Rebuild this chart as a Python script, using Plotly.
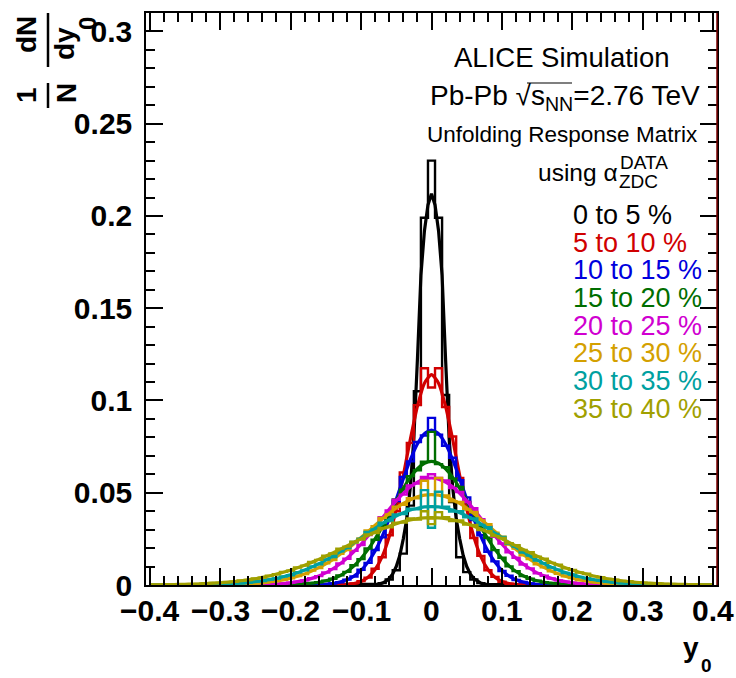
import numpy as np
import plotly.graph_objects as go

# ---------------------------------------------------------------------------
# Binning of the y0 histograms: 81 bins of width 0.01, centred on -0.40 .. 0.40
# ---------------------------------------------------------------------------
Y0_CENTERS = np.round(np.linspace(-0.40, 0.40, 81), 3)

CLASSES = ["0 to 5 %", "5 to 10 %", "10 to 15 %", "15 to 20 %",
           "20 to 25 %", "25 to 30 %", "30 to 35 %", "35 to 40 %"]

# ---------------------------------------------------------------------------
# Unfolded distributions 1/N dN/dy0 (bin contents), one list per centrality
# ---------------------------------------------------------------------------
HIST_0_5 = [
    0, 0, 0, 0, 0, 0, 0, 0, 0, 0, 0, 0, 0, 0, 0, 0, 0, 0, 0, 0,
    0, 0, 0, 0, 0, 0, 0, 0, 0, 0, 0, 0, 0,
    0.001, 0.003, 0.008, 0.017, 0.043, 0.105, 0.199, 0.230, 0.199, 0.103,
    0.045, 0.015, 0.007, 0.003, 0.001,
    0, 0, 0, 0, 0, 0, 0, 0, 0, 0, 0, 0, 0, 0, 0, 0, 0, 0, 0, 0,
    0, 0, 0, 0, 0, 0, 0, 0, 0, 0, 0, 0, 0,
]
HIST_5_10 = [
    0, 0, 0, 0, 0, 0, 0, 0, 0, 0, 0, 0, 0, 0, 0, 0, 0, 0, 0, 0,
    0, 0, 0, 0, 0, 0, 0,
    0.0001, 0.0003, 0.0009, 0.0021, 0.0040, 0.0088, 0.0150, 0.0270, 0.0400,
    0.0610, 0.0770, 0.0975, 0.1175, 0.1070, 0.1175, 0.0965, 0.0805, 0.0580,
    0.0420, 0.0255, 0.0158, 0.0080, 0.0044, 0.0018, 0.0007, 0.0003, 0.0001,
    0, 0, 0, 0, 0, 0, 0, 0, 0, 0, 0, 0, 0, 0, 0, 0, 0, 0, 0, 0,
    0, 0, 0, 0, 0, 0, 0,
]
HIST_10_15 = [
    0, 0, 0, 0, 0, 0, 0, 0, 0, 0, 0, 0, 0, 0, 0, 0, 0, 0, 0, 0,
    0, 0, 0,
    0.0001, 0.0002, 0.0004, 0.0009, 0.0015, 0.0029, 0.0046, 0.0083, 0.0120,
    0.0190, 0.0258, 0.0368, 0.0455, 0.0585, 0.0670, 0.0775, 0.0810, 0.0906,
    0.0815, 0.0755, 0.0690, 0.0568, 0.0475, 0.0352, 0.0270, 0.0180, 0.0128,
    0.0076, 0.0050, 0.0027, 0.0016, 0.0008, 0.0004, 0.0002, 0.0001,
    0, 0, 0, 0, 0, 0, 0, 0, 0, 0, 0, 0, 0, 0, 0, 0, 0, 0, 0, 0,
    0, 0, 0,
]
HIST_15_20 = [
    0, 0, 0, 0, 0, 0, 0, 0, 0, 0, 0, 0, 0, 0, 0, 0, 0, 0,
    0.0001, 0.0002, 0.0003, 0.0004, 0.0007, 0.0010, 0.0015, 0.0023, 0.0034,
    0.0052, 0.0071, 0.0107, 0.0140, 0.0198, 0.0245, 0.0322, 0.0378, 0.0463,
    0.0516, 0.0590, 0.0622, 0.0668, 0.0830, 0.0655, 0.0638, 0.0576, 0.0532,
    0.0450, 0.0392, 0.0309, 0.0256, 0.0189, 0.0148, 0.0101, 0.0075, 0.0048,
    0.0034, 0.0023, 0.0015, 0.0010, 0.0007, 0.0004, 0.0003, 0.0002, 0.0001,
    0, 0, 0, 0, 0, 0, 0, 0, 0, 0, 0, 0, 0, 0, 0, 0, 0, 0,
]
HIST_20_25 = [
    0, 0, 0, 0, 0, 0, 0, 0, 0, 0, 0, 0, 0, 0, 0,
    0.0001, 0.0002, 0.0003, 0.0005, 0.0008, 0.0012, 0.0018, 0.0025, 0.0037,
    0.0048, 0.0068, 0.0086, 0.0117, 0.0142, 0.0185, 0.0217, 0.0271, 0.0308,
    0.0368, 0.0404, 0.0462, 0.0490, 0.0540, 0.0550, 0.0585, 0.0600, 0.0580,
    0.0566, 0.0525, 0.0504, 0.0450, 0.0416, 0.0356, 0.0318, 0.0261, 0.0225,
    0.0177, 0.0148, 0.0111, 0.0090, 0.0064, 0.0050, 0.0035, 0.0025, 0.0018,
    0.0012, 0.0008, 0.0005, 0.0003, 0.0002, 0.0001,
    0, 0, 0, 0, 0, 0, 0, 0, 0, 0, 0, 0, 0, 0, 0,
]
HIST_25_30 = [
    0, 0, 0, 0, 0, 0, 0, 0, 0, 0,
    0.0001, 0.0002, 0.0003, 0.0004, 0.0006, 0.0009, 0.0012, 0.0017, 0.0021,
    0.0029, 0.0036, 0.0049, 0.0059, 0.0078, 0.0092, 0.0118, 0.0135, 0.0169,
    0.0189, 0.0229, 0.0252, 0.0296, 0.0318, 0.0364, 0.0382, 0.0425, 0.0434,
    0.0470, 0.0470, 0.0565, 0.0360, 0.0580, 0.0486, 0.0454, 0.0450, 0.0409,
    0.0396, 0.0350, 0.0330, 0.0284, 0.0262, 0.0219, 0.0197, 0.0161, 0.0141,
    0.0112, 0.0096, 0.0074, 0.0061, 0.0047, 0.0038, 0.0027, 0.0023, 0.0015,
    0.0012, 0.0009, 0.0006, 0.0004, 0.0003, 0.0002, 0.0001,
    0, 0, 0, 0, 0, 0, 0, 0, 0, 0,
]
HIST_30_35 = [
    0, 0, 0, 0, 0,
    0.0001, 0.0001, 0.0002, 0.0002, 0.0003, 0.0004, 0.0006, 0.0008, 0.0011,
    0.0013, 0.0019, 0.0022, 0.0030, 0.0035, 0.0047, 0.0053, 0.0069, 0.0079,
    0.0100, 0.0112, 0.0138, 0.0152, 0.0183, 0.0200, 0.0233, 0.0250, 0.0287,
    0.0301, 0.0338, 0.0347, 0.0382, 0.0385, 0.0414, 0.0410, 0.0514, 0.0310,
    0.0505, 0.0425, 0.0398, 0.0400, 0.0367, 0.0361, 0.0325, 0.0313, 0.0276,
    0.0260, 0.0225, 0.0208, 0.0176, 0.0160, 0.0132, 0.0118, 0.0095, 0.0083,
    0.0065, 0.0057, 0.0044, 0.0037, 0.0028, 0.0024, 0.0017, 0.0015, 0.0010,
    0.0008, 0.0006, 0.0004, 0.0003, 0.0002, 0.0002, 0.0001, 0.0001,
    0, 0, 0, 0, 0,
]
HIST_35_40 = [
    0.0001, 0.0001, 0.0002, 0.0002, 0.0003, 0.0004, 0.0005, 0.0006, 0.0008,
    0.0011, 0.0012, 0.0016, 0.0018, 0.0024, 0.0027, 0.0035, 0.0040, 0.0051,
    0.0058, 0.0071, 0.0078, 0.0095, 0.0105, 0.0125, 0.0136, 0.0159, 0.0171,
    0.0197, 0.0208, 0.0235, 0.0246, 0.0274, 0.0282, 0.0309, 0.0313, 0.0338,
    0.0338, 0.0360, 0.0355, 0.0400, 0.0330, 0.0395, 0.0368, 0.0347, 0.0350,
    0.0327, 0.0325, 0.0298, 0.0292, 0.0265, 0.0255, 0.0227, 0.0216, 0.0190,
    0.0178, 0.0153, 0.0142, 0.0120, 0.0110, 0.0091, 0.0082, 0.0068, 0.0061,
    0.0048, 0.0042, 0.0033, 0.0029, 0.0022, 0.0020, 0.0014, 0.0013, 0.0009,
    0.0008, 0.0006, 0.0005, 0.0004, 0.0003, 0.0002, 0.0002, 0.0001, 0.0001,
]

# ---------------------------------------------------------------------------
# Fitted curves. The narrow 0-5 % curve is sampled on its own finer grid,
# the others on the bin centres above.
# ---------------------------------------------------------------------------
FIT_0_5_X = [
    -0.40, -0.080, -0.075, -0.070, -0.065, -0.060, -0.055, -0.050, -0.045,
    -0.040, -0.035, -0.030, -0.025, -0.020, -0.015, -0.010, -0.005, 0.000,
    0.005, 0.010, 0.015, 0.020, 0.025, 0.030, 0.035, 0.040, 0.045, 0.050,
    0.055, 0.060, 0.065, 0.070, 0.075, 0.080, 0.40,
]
FIT_0_5 = [
    0, 0.0002, 0.0005, 0.001, 0.002, 0.0035, 0.006, 0.010, 0.016,
    0.025, 0.036, 0.053, 0.080, 0.122, 0.168, 0.192, 0.206, 0.212,
    0.206, 0.192, 0.168, 0.122, 0.080, 0.053, 0.036, 0.025, 0.016, 0.010,
    0.006, 0.0035, 0.002, 0.001, 0.0005, 0.0002, 0,
]
FIT_5_10 = [
    0, 0, 0, 0, 0, 0, 0, 0, 0, 0, 0, 0, 0, 0, 0, 0, 0, 0, 0, 0,
    0, 0, 0, 0, 0, 0, 0,
    0.0001, 0.0003, 0.0008, 0.0019, 0.0042, 0.0084, 0.0154, 0.0262, 0.0411,
    0.0593, 0.0790, 0.0968, 0.1094, 0.1140, 0.1094, 0.0968, 0.0790, 0.0593,
    0.0411, 0.0262, 0.0154, 0.0084, 0.0042, 0.0019, 0.0008, 0.0003, 0.0001,
    0, 0, 0, 0, 0, 0, 0, 0, 0, 0, 0, 0, 0, 0, 0, 0, 0, 0, 0, 0,
    0, 0, 0, 0, 0, 0, 0,
]
FIT_10_15 = [
    0, 0, 0, 0, 0, 0, 0, 0, 0, 0, 0, 0, 0, 0, 0, 0, 0, 0, 0, 0,
    0, 0, 0,
    0.0001, 0.0002, 0.0004, 0.0008, 0.0016, 0.0028, 0.0048, 0.0079, 0.0124,
    0.0185, 0.0264, 0.0359, 0.0465, 0.0576, 0.0679, 0.0764, 0.0820, 0.0840,
    0.0820, 0.0764, 0.0679, 0.0576, 0.0465, 0.0359, 0.0264, 0.0185, 0.0124,
    0.0079, 0.0048, 0.0028, 0.0016, 0.0008, 0.0004, 0.0002, 0.0001,
    0, 0, 0, 0, 0, 0, 0, 0, 0, 0, 0, 0, 0, 0, 0, 0, 0, 0, 0, 0,
    0, 0, 0,
]
FIT_15_20 = [
    0, 0, 0, 0, 0, 0, 0, 0, 0, 0, 0, 0, 0, 0, 0, 0, 0, 0,
    0.0001, 0.0002, 0.0003, 0.0004, 0.0007, 0.0010, 0.0015, 0.0023, 0.0034,
    0.0050, 0.0073, 0.0104, 0.0144, 0.0193, 0.0250, 0.0315, 0.0385, 0.0456,
    0.0524, 0.0583, 0.0630, 0.0660, 0.0670, 0.0660, 0.0630, 0.0583, 0.0524,
    0.0456, 0.0385, 0.0315, 0.0250, 0.0193, 0.0144, 0.0104, 0.0073, 0.0050,
    0.0034, 0.0023, 0.0015, 0.0010, 0.0007, 0.0004, 0.0003, 0.0002, 0.0001,
    0, 0, 0, 0, 0, 0, 0, 0, 0, 0, 0, 0, 0, 0, 0, 0, 0, 0,
]
FIT_20_25 = [
    0, 0, 0, 0, 0, 0, 0, 0, 0, 0, 0, 0, 0, 0, 0,
    0.0001, 0.0002, 0.0003, 0.0005, 0.0008, 0.0012, 0.0018, 0.0025, 0.0036,
    0.0049, 0.0066, 0.0088, 0.0114, 0.0145, 0.0181, 0.0221, 0.0266, 0.0313,
    0.0362, 0.0410, 0.0456, 0.0497, 0.0532, 0.0558, 0.0574, 0.0580, 0.0574,
    0.0558, 0.0532, 0.0497, 0.0456, 0.0410, 0.0362, 0.0313, 0.0266, 0.0221,
    0.0181, 0.0145, 0.0114, 0.0088, 0.0066, 0.0049, 0.0036, 0.0025, 0.0018,
    0.0012, 0.0008, 0.0005, 0.0003, 0.0002, 0.0001,
    0, 0, 0, 0, 0, 0, 0, 0, 0, 0, 0, 0, 0, 0, 0,
]
FIT_25_30 = [
    0, 0, 0, 0, 0, 0, 0, 0, 0, 0,
    0.0001, 0.0002, 0.0003, 0.0004, 0.0006, 0.0009, 0.0012, 0.0016, 0.0022,
    0.0028, 0.0037, 0.0048, 0.0060, 0.0076, 0.0094, 0.0115, 0.0138, 0.0165,
    0.0193, 0.0224, 0.0257, 0.0290, 0.0324, 0.0357, 0.0388, 0.0417, 0.0442,
    0.0462, 0.0478, 0.0487, 0.0490, 0.0487, 0.0478, 0.0462, 0.0442, 0.0417,
    0.0388, 0.0357, 0.0324, 0.0290, 0.0257, 0.0224, 0.0193, 0.0165, 0.0138,
    0.0115, 0.0094, 0.0076, 0.0060, 0.0048, 0.0037, 0.0028, 0.0022, 0.0016,
    0.0012, 0.0009, 0.0006, 0.0004, 0.0003, 0.0002, 0.0001,
    0, 0, 0, 0, 0, 0, 0, 0, 0, 0,
]
FIT_30_35 = [
    0, 0, 0, 0, 0,
    0.0001, 0.0001, 0.0002, 0.0002, 0.0003, 0.0004, 0.0006, 0.0008, 0.0010,
    0.0014, 0.0018, 0.0023, 0.0029, 0.0036, 0.0045, 0.0055, 0.0067, 0.0081,
    0.0097, 0.0115, 0.0135, 0.0156, 0.0179, 0.0204, 0.0229, 0.0255, 0.0281,
    0.0307, 0.0331, 0.0354, 0.0374, 0.0392, 0.0406, 0.0416, 0.0423, 0.0425,
    0.0423, 0.0416, 0.0406, 0.0392, 0.0374, 0.0354, 0.0331, 0.0307, 0.0281,
    0.0255, 0.0229, 0.0204, 0.0179, 0.0156, 0.0135, 0.0115, 0.0097, 0.0081,
    0.0067, 0.0055, 0.0045, 0.0036, 0.0029, 0.0023, 0.0018, 0.0014, 0.0010,
    0.0008, 0.0006, 0.0004, 0.0003, 0.0002, 0.0002, 0.0001, 0.0001,
    0, 0, 0, 0, 0,
]
FIT_35_40 = [
    0.0001, 0.0001, 0.0002, 0.0002, 0.0003, 0.0004, 0.0005, 0.0006, 0.0008,
    0.0010, 0.0012, 0.0015, 0.0019, 0.0023, 0.0028, 0.0034, 0.0041, 0.0049,
    0.0059, 0.0069, 0.0080, 0.0093, 0.0107, 0.0122, 0.0139, 0.0156, 0.0174,
    0.0193, 0.0212, 0.0231, 0.0250, 0.0269, 0.0287, 0.0303, 0.0319, 0.0332,
    0.0344, 0.0353, 0.0360, 0.0364, 0.0365, 0.0364, 0.0360, 0.0353, 0.0344,
    0.0332, 0.0319, 0.0303, 0.0287, 0.0269, 0.0250, 0.0231, 0.0212, 0.0193,
    0.0174, 0.0156, 0.0139, 0.0122, 0.0107, 0.0093, 0.0080, 0.0069, 0.0059,
    0.0049, 0.0041, 0.0034, 0.0028, 0.0023, 0.0019, 0.0015, 0.0012, 0.0010,
    0.0008, 0.0006, 0.0005, 0.0004, 0.0003, 0.0002, 0.0002, 0.0001, 0.0001,
]

X_TICKS = [-0.4, -0.3, -0.2, -0.1, 0.0, 0.1, 0.2, 0.3, 0.4]
X_TICK_TEXT = ["\u22120.4", "\u22120.3", "\u22120.2", "\u22120.1", "0",
               "0.1", "0.2", "0.3", "0.4"]
Y_TICKS = [0.0, 0.05, 0.10, 0.15, 0.20, 0.25, 0.30]
Y_TICK_TEXT = ["0", "0.05", "0.1", "0.15", "0.2", "0.25", "0.3"]

COLORS = ["#000000", "#d00000", "#0000dd", "#006e00",
          "#d000d0", "#d4a000", "#00a0a0", "#a0a000"]

HISTS = [HIST_0_5, HIST_5_10, HIST_10_15, HIST_15_20,
         HIST_20_25, HIST_25_30, HIST_30_35, HIST_35_40]
FITS = [FIT_0_5, FIT_5_10, FIT_10_15, FIT_15_20,
        FIT_20_25, FIT_25_30, FIT_30_35, FIT_35_40]

# ---------------------------------------------------------------------------
# Canvas geometry (pixels)
# ---------------------------------------------------------------------------
W, H = 736, 678
ML, MR, MT, MB = 146, 19, 13, 93
PW, PH = W - ML - MR, H - MT - MB

FONT = "Liberation Sans, Arial, Helvetica, sans-serif"


def px(x):
    return (x - ML) / PW


def py(y):
    return (H - MB - y) / PH


fig = go.Figure()

for i, (hist, fit, col) in enumerate(zip(HISTS, FITS, COLORS)):
    fig.add_trace(go.Scatter(
        x=Y0_CENTERS, y=hist, mode="lines",
        line=dict(color=col, width=2.4, shape="hvh"),
        hoverinfo="skip", showlegend=False))
    fx = FIT_0_5_X if i == 0 else Y0_CENTERS
    fig.add_trace(go.Scatter(
        x=fx, y=fit, mode="lines",
        line=dict(color=col, width=3.2,
                  shape="linear" if i == 0 else "spline", smoothing=0.6),
        hoverinfo="skip", showlegend=False))

annotations = []


def text(t, x, y, size, color="black", xanchor="left", yanchor="middle",
         angle=0, bold=False):
    annotations.append(dict(
        text=t, x=px(x), y=py(y), xref="paper", yref="paper",
        xanchor=xanchor, yanchor=yanchor, showarrow=False, textangle=angle,
        font=dict(family=FONT, size=size, color=color,
                  weight="bold" if bold else "normal")))


# header
text("ALICE Simulation", 452, 58, 27.5)
text("Pb-Pb \u221as<sub>NN</sub>=2.76 TeV", 428, 97, 28)
text("Unfolding Response Matrix", 425, 134, 22.5)
text("using \u03b1", 536, 172, 24.5)
text("DATA", 618, 163, 19)
text("ZDC", 617, 181, 19)

# centrality labels
for k, (lab, col) in enumerate(zip(CLASSES, COLORS)):
    text(lab, 571, 215 + 27.7 * k, 27, color=col)

# y-axis title: 1/N dN/dy0, rotated
text("dN", 27, 35, 28, angle=-90, xanchor="center", yanchor="middle", bold=True)
text("dy", 65, 44, 28, angle=-90, xanchor="center", yanchor="middle", bold=True)
text("0", 87, 24, 24, angle=-90, xanchor="center", yanchor="middle", bold=True)
text("1", 27, 95, 28, angle=-90, xanchor="center", yanchor="middle", bold=True)
text("N", 66, 93, 28, angle=-90, xanchor="center", yanchor="middle", bold=True)

# x-axis title
text("y", 691, 647, 28, xanchor="center", bold=True)
text("0", 706, 678, 19, xanchor="center", yanchor="bottom", bold=True)

# x tick labels, placed on the data axis
for v, t in zip(X_TICKS, X_TICK_TEXT):
    annotations.append(dict(
        text=t, x=v, y=py(610), xref="x", yref="paper",
        xanchor="center", yanchor="middle", showarrow=False,
        font=dict(family=FONT, size=30, color="black", weight="bold")))

shapes = [
    # fraction bars of the rotated y title
    dict(type="line", xref="paper", yref="paper",
         x0=px(48), x1=px(48), y0=py(13), y1=py(67),
         line=dict(color="black", width=2.5)),
    dict(type="line", xref="paper", yref="paper",
         x0=px(48), x1=px(48), y0=py(83), y1=py(108),
         line=dict(color="black", width=2.5)),
    # radical bar over s_NN
    dict(type="line", xref="paper", yref="paper",
         x0=px(527), x1=px(572), y0=py(83), y1=py(83),
         line=dict(color="black", width=1.2)),
    # right frame edge
    dict(type="line", xref="paper", yref="paper",
         x0=1, x1=1, y0=0, y1=1, line=dict(color="#7a0000", width=1.5)),
]

axis_common = dict(
    showline=True, linecolor="black", linewidth=1.5, mirror="allticks",
    ticks="inside", ticklen=17, tickwidth=1.5, tickcolor="black",
    showgrid=False, zeroline=False,
    tickfont=dict(family=FONT, size=30, color="black", weight="bold"),
)

fig.update_layout(
    width=W, height=H, margin=dict(l=ML, r=MR, t=MT, b=MB),
    paper_bgcolor="white", plot_bgcolor="white",
    annotations=annotations, shapes=shapes,
    xaxis=dict(range=[-0.405, 0.405], tickvals=X_TICKS, showticklabels=False,
               minor=dict(dtick=0.02, ticks="inside", ticklen=9,
                          tickwidth=1.5, tickcolor="black"),
               **axis_common),
    yaxis=dict(range=[0, 0.31], tickvals=Y_TICKS, ticktext=Y_TICK_TEXT,
               minor=dict(dtick=0.01, ticks="inside", ticklen=9,
                          tickwidth=1.5, tickcolor="black"),
               ticklabelstandoff=6, **axis_common),
)

fig.write_html("out.html")
